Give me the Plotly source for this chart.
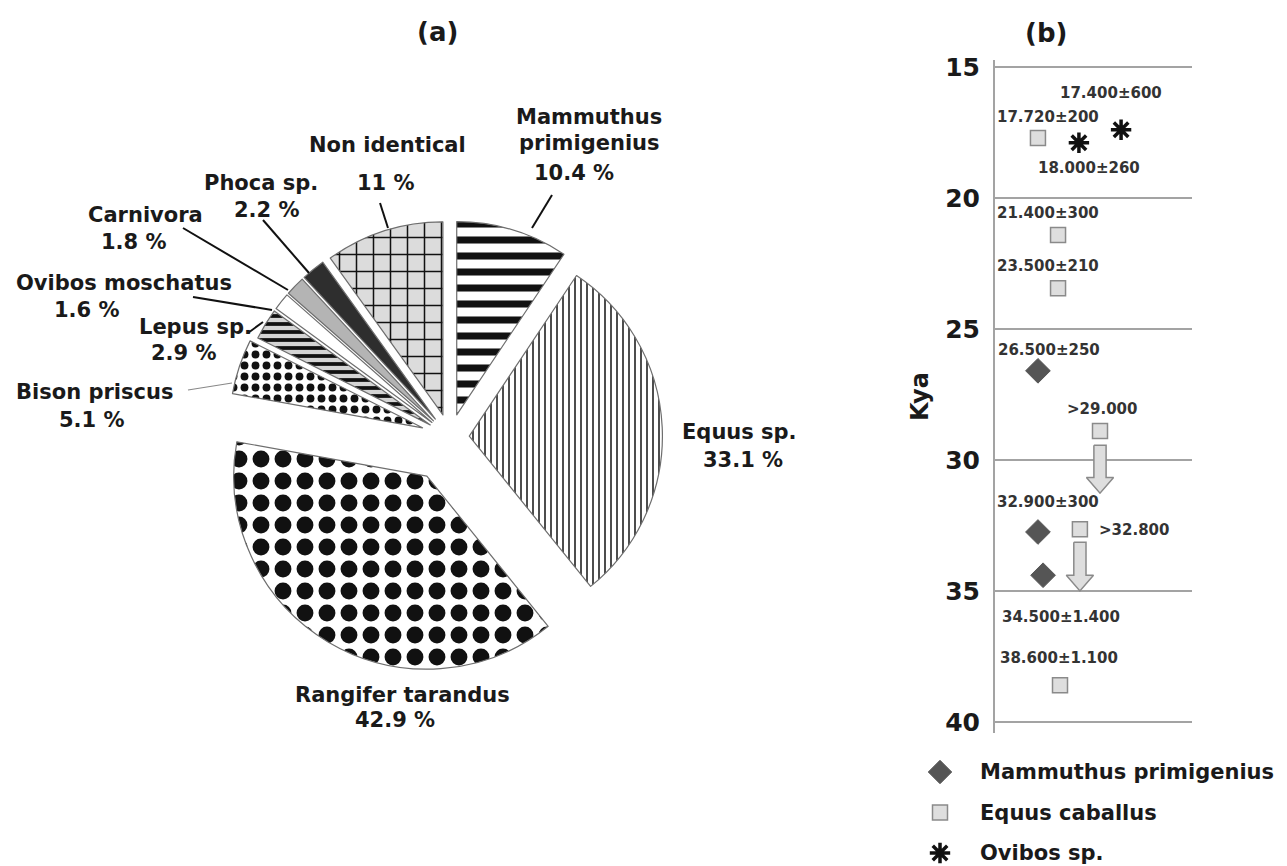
import plotly.graph_objects as go

# ---------------- data: panel (a) ----------------
taxa = ["Mammuthus primigenius", "Equus sp.", "Rangifer tarandus", "Bison priscus",
        "Lepus sp.", "Ovibos moschatus", "Carnivora", "Phoca sp.", "Non identical"]
shares = [10.4, 33.1, 42.9, 5.1, 2.9, 1.6, 1.8, 2.2, 11]

# ---------------- data: panel (b) ----------------
kya_ticks = [15, 20, 25, 30, 35, 40]
mam_x = [0.218, 0.218, 0.244]
mam_kya = [26.6, 32.75, 34.4]
mam_lab = ["26.500±250", "32.900±300", "34.500±1.400"]
equ_x = [0.218, 0.32, 0.32, 0.533, 0.431, 0.33]
equ_kya = [17.72, 21.42, 23.45, 28.9, 32.65, 38.6]
equ_lab = ["17.720±200", "21.400±300", "23.500±210", ">29.000", ">32.800", "38.600±1.100"]
ovi_x = [0.426, 0.64]
ovi_kya = [17.9, 17.4]
ovi_lab = ["18.000±260", "17.400±600"]
arrow_x = [0.533, 0.431]
arrow_from = [29.44, 33.14]
arrow_to = [31.27, 35.0]
legend_names = ["Mammuthus primigenius", "Equus caballus", "Ovibos sp."]

# ---------------- layout helpers (style / positions) ----------------
OFF = 8                      # page body margin
W, H = 1287 - 2 * OFF, 866 - OFF
FONT = "DejaVu Sans"
TXT = "#1a1a1a"


def P(x, y):
    """window pixel -> paper coords"""
    return (x - OFF) / W, 1 - (y - OFF) / H


def PX(x0, x1):
    return [(x0 - OFF) / W, (x1 - OFF) / W]


def PY(top, bottom):
    return [max(0.0, 1 - (bottom - OFF) / H), min(1.0, 1 - (top - OFF) / H)]


fig = go.Figure()

# ---------------- pie ----------------
CX, CY, HALF = 450, 437, 238.5
fills = ["white", "white", "white", "white", "#d4d4d4", "white", "#b4b4b4", "#2e2e2e", "#dcdcdc"]
fig.add_trace(go.Pie(
    labels=taxa, values=shares, sort=False, direction="clockwise", rotation=0,
    pull=[0.12, 0.10, 0.235, 0.15, 0.12, 0.12, 0.12, 0.12, 0.12],
    textinfo="none", hoverinfo="label+value", showlegend=False,
    domain=dict(x=PX(CX - HALF, CX + HALF), y=PY(CY - HALF, CY + HALF)),
    marker=dict(
        colors=fills,
        line=dict(color="#6e6e6e", width=1.2),
        pattern=dict(
            shape=["-", "|", ".", ".", "-", "", "", "", "+"],
            size=[16, 6, 22, 11, 8, 10, 10, 10, 17],
            solidity=[0.44, 0.25, 0.46, 0.4, 0.47, 0.1, 0.1, 0.1, 0.17],
            fgcolor=["#111111"] * 9,
            bgcolor=fills,
            fillmode="replace",
        ),
    ),
))

# pie labels: per slice, positions of name line(s) then the percent line
label_pos = [
    [(589, 117), (589, 143), (574, 173)],   # Mammuthus (two name lines)
    [(739, 432), (743, 460)],               # Equus
    [(402, 695), (395, 720)],               # Rangifer
    [(94, 392), (92, 420)],                 # Bison
    [(195, 327), (184, 353)],               # Lepus
    [(124, 283), (87, 310)],                # Ovibos
    [(145, 215), (134, 242)],               # Carnivora
    [(261, 183), (267, 210)],               # Phoca
    [(388, 145), (386, 183)],               # Non identical
]
leaders = {
    0: ((552, 195), (532, 228), "#111", 2),
    8: ((380, 203), (388, 228), "#111", 2),
    7: ((263, 220), (309, 273), "#111", 2),
    6: ((183, 228), (288, 290), "#111", 2),
    5: ((193, 297), (272, 310), "#111", 2),
    4: ((248, 333), (263, 322), "#111", 2),
    3: ((188, 390), (232, 383), "#888", 1.2),
}

annotations = []
for i, name in enumerate(taxa):
    pos = label_pos[i]
    lines = name.split(" ") if len(pos) == 3 else [name]
    lines = lines + [f"{shares[i]:g} %"]
    for t, (px, py) in zip(lines, pos):
        x, y = P(px, py)
        annotations.append(dict(x=x, y=y, xref="paper", yref="paper", text=t, showarrow=False,
                                xanchor="center", yanchor="middle",
                                font=dict(family=FONT, size=21, color=TXT, weight="bold")))

shapes = []
for i, (a, b, col, w) in leaders.items():
    x0, y0 = P(*a)
    x1, y1 = P(*b)
    shapes.append(dict(type="line", xref="paper", yref="paper", x0=x0, y0=y0, x1=x1, y1=y1,
                       line=dict(color=col, width=w)))

# panel titles
for t, (px, py) in [("(a)", (437, 32)), ("(b)", (1046, 33))]:
    x, y = P(px, py)
    annotations.append(dict(x=x, y=y, xref="paper", yref="paper", text=t, showarrow=False,
                            xanchor="center", yanchor="middle",
                            font=dict(family=FONT, size=26, color=TXT, weight="bold")))

# ---------------- panel (b) ----------------
# block arrows built from the arrow data
SHAFT, HEAD, HEADLEN = 0.031, 0.069, 0.6
ax_pts, ay_pts = [], []
for x, y0, y1 in zip(arrow_x, arrow_from, arrow_to):
    yh = y1 - HEADLEN
    ax_pts += [x - SHAFT, x + SHAFT, x + SHAFT, x + HEAD, x, x - HEAD, x - SHAFT, x - SHAFT, None]
    ay_pts += [y0, y0, yh, yh, y1, yh, yh, y0, None]
fig.add_trace(go.Scatter(x=ax_pts, y=ay_pts, mode="lines", fill="toself", fillcolor="#dedede",
                         line=dict(color="#8a8a8a", width=1.5), showlegend=False, hoverinfo="skip",
                         xaxis="x", yaxis="y"))

sym = {
    "m": dict(symbol="diamond", size=19, color="#555555", line=dict(color="#555555", width=1)),
    "e": dict(symbol="square", size=15, color="#dedede", line=dict(color="#8a8a8a", width=1.5)),
    "o": dict(symbol="asterisk-open", size=17, color="#111111", line=dict(color="#111111", width=3.5)),
}
for key, xs, ys, nm in [("m", mam_x, mam_kya, legend_names[0]), ("e", equ_x, equ_kya, legend_names[1]),
                        ("o", ovi_x, ovi_kya, legend_names[2])]:
    fig.add_trace(go.Scatter(x=xs, y=ys, mode="markers", name=nm, showlegend=False,
                             marker=sym[key], xaxis="x", yaxis="y"))

# point labels (offsets in pixels)
pt_offsets = {
    "m": [(11, 21), (10, 30), (18, -42)],
    "e": [(10, 21), (-10, 22), (-10, 22), (2, 22), (54, -1), (-1, 27)],
    "o": [(10, -25), (-10, 37)],
}
for key, xs, ys, labs in [("m", mam_x, mam_kya, mam_lab), ("e", equ_x, equ_kya, equ_lab),
                          ("o", ovi_x, ovi_kya, ovi_lab)]:
    for (x, y, lab, (dx, dy)) in zip(xs, ys, labs, pt_offsets[key]):
        annotations.append(dict(x=x, y=y, xref="x", yref="y", text=lab, showarrow=False,
                                xshift=dx, yshift=dy, xanchor="center", yanchor="middle",
                                font=dict(family=FONT, size=15, color="#333333", weight="bold")))

# ---------------- legend (drawn on its own hidden axes so it never pushes margins) ----------------
legend_rows = list(range(len(legend_names)))
for key, row, nm in zip(["m", "e", "o"], legend_rows, legend_names):
    mk = dict(sym[key])
    if key == "m":
        mk["size"] = 18
    fig.add_trace(go.Scatter(x=[0.5], y=[row], mode="markers", marker=mk, showlegend=False,
                             hoverinfo="skip", cliponaxis=False, xaxis="x2", yaxis="y2"))
    annotations.append(dict(x=0.5, y=row, xref="x2", yref="y2", text=nm, showarrow=False,
                            xshift=38, xanchor="left", yanchor="middle",
                            font=dict(family=FONT, size=21, color=TXT, weight="bold")))

fig.update_layout(
    width=W, height=H, margin=dict(l=0, r=0, t=0, b=0),
    paper_bgcolor="white", plot_bgcolor="white", showlegend=False,
    font=dict(family=FONT, color=TXT),
    xaxis=dict(domain=PX(995, 1192), range=[0, 1], visible=False),
    yaxis=dict(domain=PY(60, 733), range=[40.42, 14.74], tickvals=kya_ticks,
               showgrid=True, gridcolor="#a3a3a3", gridwidth=2, showline=True,
               linecolor="#a3a3a3", linewidth=2, zeroline=False, ticks="",
               ticklabelstandoff=8, automargin=False,
               tickfont=dict(family=FONT, size=25, color=TXT, weight="bold"),
               title=dict(text="Kya", standoff=10,
                          font=dict(family=FONT, size=24, color=TXT, weight="bold"))),
    xaxis2=dict(domain=PX(925, 955), range=[0, 1], visible=False, anchor="y2", fixedrange=True),
    yaxis2=dict(domain=PY(752, 858), range=[2.123, -0.494], visible=False, anchor="x2",
                fixedrange=True),
    annotations=annotations, shapes=shapes,
)

fig.write_html("out.html")
